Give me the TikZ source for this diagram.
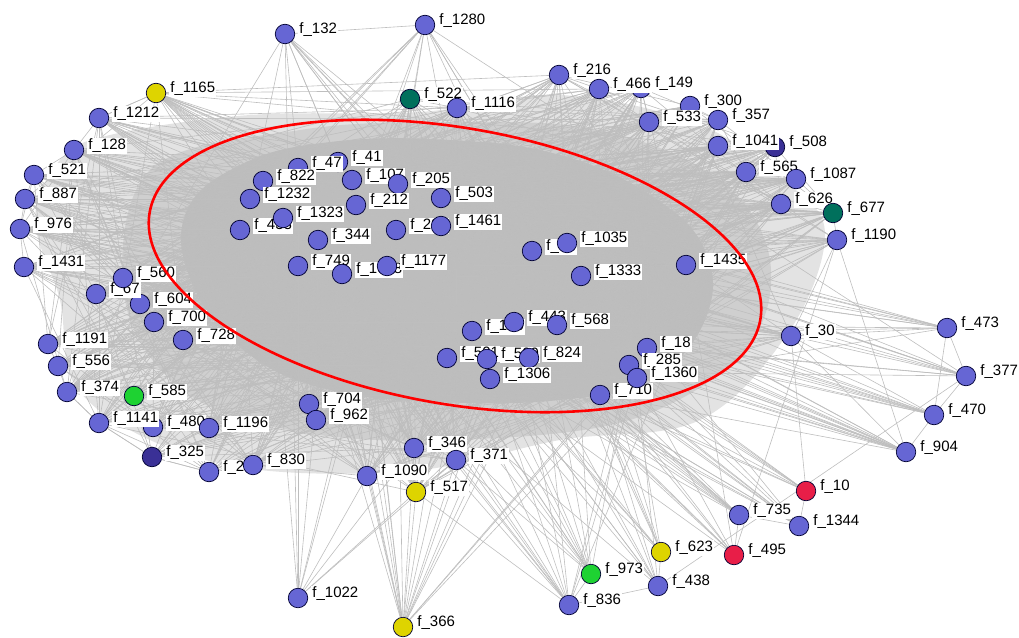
\documentclass[tikz,border=0pt]{standalone}
\usepackage{fontspec}
\setmainfont{Liberation Sans}
\usetikzlibrary{backgrounds}
\definecolor{nb}{RGB}{102,102,212}
\definecolor{nd}{RGB}{58,48,150}
\definecolor{nt}{RGB}{0,112,92}
\definecolor{ng}{RGB}{30,210,50}
\definecolor{ny}{RGB}{222,212,0}
\definecolor{nr}{RGB}{232,30,72}
\definecolor{edgegrey}{RGB}{190,190,190}
\definecolor{coregrey}{RGB}{184,184,184}
\begin{document}
\begin{tikzpicture}[x=1pt,y=-1pt,
  vert/.style={circle, draw=black!80!blue, line width=0.7pt, minimum size=19.5pt, inner sep=0pt},
  lbl/.style={fill=white, inner sep=1.2pt, anchor=west, font=\fontsize{15}{15}\selectfont, text=black},
  edge/.style={draw=edgegrey, line width=0.6pt},
  haze/.style={fill=coregrey, fill opacity=#1},
  ring/.style={draw=red, line width=2.6pt}]
\useasboundingbox (0,0) rectangle (1019,637);
\foreach \i/\x/\y/\lb/\cl/\w in {
 1/285/34/132/nb/0.39, 2/425/25/1280/nb/0.39, 3/156/93/1165/ny/0.6, 4/99/118/1212/nb/0.6,
 5/74/150/128/nb/0.6, 6/34/175/521/nb/0.6, 7/25/199/887/nb/0.6, 8/20/229/976/nb/0.6,
 9/24/267/1431/nb/0.6, 10/410/99/522/nt/0.65, 11/457/108/1116/nb/0.65, 12/559/75/216/nb/0.65,
 13/641/88/149/nb/0.65, 14/599/89/466/nb/0.65, 15/690/106/300/nb/0.65, 16/649/122/533/nb/0.65,
 17/718/120/357/nb/0.65, 18/775/147/508/nd/0.65, 19/718/146/1041/nb/0.65, 20/746/172/565/nb/0.65,
 21/796/179/1087/nb/0.65, 22/781/204/626/nb/0.65, 23/833/213/677/nt/0.65, 24/837/240/1190/nb/0.5,
 25/791/336/30/nb/0.6, 26/947/328/473/nb/0.38, 27/966/376/377/nb/0.38, 28/934/415/470/nb/0.38,
 29/906/452/904/nb/0.38, 30/806/491/10/nr/0.38, 31/739/515/735/nb/0.38, 32/799/526/1344/nb/0.3,
 33/734/555/495/nr/0.3, 34/661/552/623/ny/0.35, 35/658/586/438/nb/0.3, 36/591/574/973/ng/0.38,
 37/569/605/836/nb/0.39, 38/403/627/366/ny/0.36, 39/298/598/1022/nb/0.22, 40/416/492/517/ny/0.55,
 41/367/476/1090/nb/0.55, 42/414/448/346/nb/0.65, 43/456/460/371/nb/0.65, 44/209/472/271/nb/0.55,
 45/253/465/830/nb/0.55, 46/152/457/325/nd/0.55, 47/153/427/480/nb/0.55, 48/99/423/1141/nb/0.55,
 49/209/428/1196/nb/0.55, 50/134/396/585/ng/0.55, 51/67/392/374/nb/0.55, 52/58/366/556/nb/0.55,
 53/48/344/1191/nb/0.55, 54/183/340/728/nb/0.65, 55/154/322/700/nb/0.65, 56/140/304/604/nb/0.65,
 57/96/294/67/nb/0.6, 58/123/278/560/nb/0.65, 59/309/404/704/nb/0.7, 60/316/420/962/nb/0.7,
 61/338/162/41/nb/0.95, 62/298/168/47/nb/0.95, 63/263/181/822/nb/0.95, 64/250/199/1232/nb/0.95,
 65/352/180/107/nb/0.95, 66/398/184/205/nb/0.95, 67/441/198/503/nb/0.95, 68/356/205/212/nb/0.95,
 69/240/230/433/nb/0.95, 70/283/218/1323/nb/0.95, 71/318/240/344/nb/0.95, 72/396/230/299/nb/0.95,
 73/441/226/1461/nb/0.95, 74/298/266/749/nb/0.95, 75/342/274/1058/nb/0.95, 76/387/266/1177/nb/0.95,
 77/532/251/88/nb/0.95, 78/567/243/1035/nb/0.95, 79/581/276/1333/nb/0.95, 80/686/265/1435/nb/0.95,
 81/472/331/120/nb/0.95, 82/514/322/443/nb/0.95, 83/557/325/568/nb/0.95, 84/447/358/501/nb/0.95,
 85/487/359/509/nb/0.95, 86/529/358/824/nb/0.95, 87/490/379/1306/nb/0.95, 88/647/348/18/nb/0.95,
 89/629/365/285/nb/0.95, 90/600/395/710/nb/0.95, 91/637/378/1360/nb/0.95} {
  \node[vert, fill=\cl] (n\i) at (\x,\y) {};
  \node[lbl] (l\i) at (\x+13,\y-4) {f\_\lb};
  \expandafter\xdef\csname nw\i\endcsname{\w}
}
\begin{pgfonlayer}{background}
\fill[haze=0.4] plot[smooth cycle, tension=0.6] coordinates {
  (110,135) (250,115) (420,112) (560,95) (700,125) (790,185) (825,235)
  (790,330) (700,420) (560,440) (420,470) (260,470) (150,440) (75,385)
  (60,300) (35,220) (60,160)};
\fill[haze=0.45] plot[smooth cycle, tension=0.6] coordinates {
  (150,170) (300,130) (450,122) (600,130) (720,180) (770,260) (745,350)
  (630,420) (450,440) (300,432) (185,392) (125,300)};
\fill[haze=0.8] plot[smooth cycle, tension=0.7] coordinates {
  (185,215) (240,165) (330,142) (450,140) (560,155) (650,195) (705,250)
  (705,320) (650,380) (560,400) (440,402) (330,390) (250,355) (195,290)};
\pgfmathsetseed{4}
\foreach \i in {1,...,90} {
  \pgfmathtruncatemacro\js{\i+1}
  \foreach \j in {\js,...,91} {
    \pgfmathsetmacro\wa{\csname nw\i\endcsname}
    \pgfmathsetmacro\wb{\csname nw\j\endcsname}
    \pgfmathsetmacro\thr{\wa*\wb*(((\wa>0.8)||(\wb>0.8)) ? 1 : (((\wa<0.4)||(\wb<0.4)) ? 0.06 : 0.6))}
    \pgfmathsetmacro\rr{rnd}
    \ifdim\rr pt<\thr pt \draw[edge] (n\i) -- (n\j); \fi
  }
}
\foreach \a/\b in {1/2,3/4,4/5,5/6,6/7,7/8,8/9,26/27,27/28,28/29,26/28,25/24,24/23,30/32,31/32,
  36/37,35/37,34/35,33/31,52/53,51/52,48/51,46/48,46/44,38/40,39/41,25/26,25/27,25/28,25/29,
  39/40,39/42,39/43,38/41,38/42,38/43,37/40,37/43,36/43,30/25,29/24}
  {\draw[edge] (n\a) -- (n\b);}
\end{pgfonlayer}
\draw[ring, rotate around={-10:(455,266)}] (455,266) ellipse [x radius=310, y radius=138];
\end{tikzpicture}
\end{document}
